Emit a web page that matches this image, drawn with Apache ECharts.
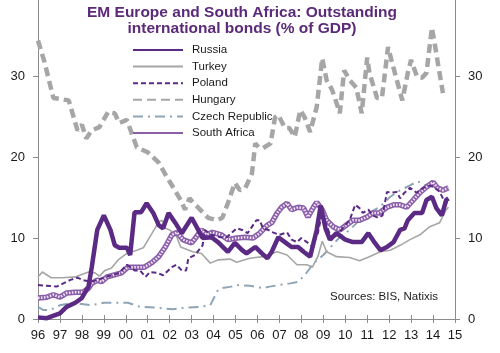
<!DOCTYPE html>
<html>
<head>
<meta charset="utf-8">
<script src="https://cdn.jsdelivr.net/npm/echarts@6/dist/echarts.min.js"></script>
<style>
html,body{margin:0;padding:0;background:#fff;}
#chart{width:500px;height:353px;}
</style>
</head>
<body>
<div id="chart"></div>
<script>
// values: [year, % of GDP]
var russia=[[1996.0,0.2],[1996.4,0.1],[1997.0,0.7],[1997.3,1.5],[1997.7,2.0],[1998.0,2.6],[1998.3,4.0],[1998.45,6.4],[1998.7,11.0],[1999.0,12.8],[1999.3,11.0],[1999.5,9.1],[1999.7,8.8],[2000.05,8.8],[2000.2,7.9],[2000.4,13.2],[2000.7,13.2],[2000.95,14.3],[2001.25,13.1],[2001.5,11.6],[2001.7,11.2],[2001.95,13.1],[2002.25,11.9],[2002.55,10.6],[2003.0,12.5],[2003.3,11.0],[2003.5,10.0],[2003.9,10.1],[2004.2,9.5],[2004.65,8.3],[2004.97,9.4],[2005.3,8.5],[2005.5,8.1],[2005.9,8.9],[2006.2,8.1],[2006.45,7.5],[2006.65,8.3],[2006.95,10.1],[2007.25,9.5],[2007.55,8.9],[2007.85,8.9],[2008.1,8.3],[2008.4,7.7],[2008.7,11.0],[2008.88,14.0],[2009.1,11.2],[2009.3,9.8],[2009.6,10.6],[2010.0,9.8],[2010.35,9.5],[2010.75,9.5],[2011.05,10.6],[2011.35,9.4],[2011.6,8.5],[2011.9,8.9],[2012.2,9.5],[2012.5,11.0],[2012.7,11.2],[2012.85,12.2],[2013.15,13.1],[2013.5,13.1],[2013.7,14.7],[2013.95,15.1],[2014.15,13.7],[2014.4,12.8],[2014.6,14.7],[2014.7,14.9]];
var turkey=[[1996.0,5.2],[1996.2,5.8],[1996.6,5.1],[1997.1,5.1],[1997.7,5.2],[1998.3,5.8],[1998.6,5.7],[1998.8,5.3],[1999.05,6.0],[1999.35,6.3],[1999.65,7.3],[2000.05,8.1],[2000.5,8.5],[2000.8,8.8],[2001.2,10.6],[2001.5,12.0],[2001.65,12.2],[2001.8,11.2],[2002.0,11.0],[2002.3,10.3],[2002.5,8.9],[2003.05,8.3],[2003.45,8.1],[2003.85,6.9],[2004.2,7.3],[2004.75,7.4],[2005.05,7.0],[2005.65,7.5],[2006.25,7.7],[2006.9,8.3],[2007.35,7.9],[2007.8,6.7],[2008.25,6.7],[2008.5,6.4],[2008.75,7.7],[2008.95,9.6],[2009.15,8.3],[2009.6,7.7],[2010.2,7.6],[2010.65,7.2],[2011.1,7.7],[2011.6,8.3],[2012.05,8.5],[2012.5,9.1],[2012.95,9.8],[2013.4,10.4],[2013.85,11.4],[2014.3,11.9],[2014.6,13.5],[2014.7,13.8]];
var poland=[[1996.0,4.2],[1996.85,4.0],[1997.45,4.8],[1997.8,5.1],[1998.05,4.8],[1998.4,4.6],[1998.7,4.8],[1999.05,5.2],[1999.4,5.4],[1999.7,5.7],[2000.05,6.7],[2000.4,6.0],[2000.65,6.0],[2000.9,5.2],[2001.1,5.8],[2001.45,5.7],[2001.7,5.4],[2002.1,6.4],[2002.3,6.7],[2002.55,6.0],[2002.75,6.0],[2002.85,7.5],[2003.15,7.9],[2003.5,9.1],[2003.6,11.0],[2003.9,10.4],[2004.3,10.1],[2004.6,10.1],[2005.05,11.2],[2005.3,11.0],[2005.55,10.6],[2005.7,11.2],[2005.95,12.2],[2006.1,12.2],[2006.25,11.2],[2006.5,11.0],[2006.7,10.7],[2007.0,10.4],[2007.35,10.7],[2007.55,9.8],[2007.8,9.5],[2008.0,10.0],[2008.25,9.5],[2008.5,8.9],[2008.75,10.6],[2008.95,13.2],[2009.15,11.5],[2009.4,9.8],[2009.7,10.6],[2010.0,11.6],[2010.2,12.2],[2010.45,14.1],[2010.65,13.7],[2010.8,13.1],[2011.05,13.5],[2011.25,12.8],[2011.5,12.5],[2011.7,12.8],[2011.9,15.7],[2012.1,15.6],[2012.35,15.7],[2012.5,14.9],[2012.7,15.6],[2012.95,16.2],[2013.25,15.6],[2013.55,16.2],[2013.85,16.5],[2014.1,16.2],[2014.3,15.7],[2014.45,14.9],[2014.6,14.3],[2014.7,14.9]];
var hungary=[[1996.0,34.4],[1996.3,31.7],[1996.7,27.3],[1997.4,27.0],[1997.8,23.3],[1998.0,24.0],[1998.2,22.3],[1998.45,23.3],[1998.8,23.7],[1999.2,25.6],[1999.5,25.4],[1999.7,24.2],[2000.05,24.6],[2000.5,21.2],[2001.0,20.6],[2001.5,19.3],[2001.9,17.4],[2002.15,16.3],[2002.5,14.7],[2002.7,13.5],[2002.9,14.9],[2003.1,14.3],[2003.5,13.2],[2003.75,12.5],[2004.15,12.2],[2004.4,12.5],[2004.65,14.3],[2004.97,16.8],[2005.2,15.9],[2005.45,16.2],[2005.75,18.0],[2005.9,21.7],[2006.05,21.2],[2006.25,21.1],[2006.6,21.7],[2006.8,24.9],[2006.95,25.2],[2007.25,23.6],[2007.45,23.6],[2007.7,22.5],[2007.95,25.8],[2008.15,24.9],[2008.4,23.1],[2008.7,26.2],[2008.95,32.2],[2009.15,29.5],[2009.4,28.3],[2009.6,26.7],[2009.75,25.4],[2009.95,30.7],[2010.2,29.5],[2010.5,28.6],[2010.75,25.4],[2011.0,32.3],[2011.1,30.4],[2011.45,27.3],[2011.67,27.3],[2011.95,33.6],[2012.1,32.0],[2012.35,29.5],[2012.6,27.0],[2012.85,30.4],[2013.0,32.0],[2013.27,29.9],[2013.5,29.8],[2013.7,30.4],[2013.95,36.0],[2014.1,33.6],[2014.25,31.1],[2014.45,27.9]];
var czech=[[1996.0,1.5],[1996.25,1.1],[1996.55,1.1],[1997.0,1.7],[1997.6,2.0],[1998.4,1.7],[1999.0,2.0],[2000.1,2.0],[2000.65,1.5],[2001.4,1.4],[2002.15,1.2],[2002.7,1.4],[2003.4,1.5],[2003.85,1.7],[2004.2,3.6],[2004.35,3.8],[2004.8,4.0],[2005.05,4.2],[2005.65,4.1],[2006.25,3.8],[2006.55,4.0],[2007.0,4.2],[2007.5,4.4],[2007.85,4.6],[2008.15,5.4],[2008.4,6.3],[2008.55,6.9],[2008.75,7.3],[2009.0,7.9],[2009.2,8.5],[2009.75,10.1],[2010.2,11.0],[2010.65,12.2],[2011.1,13.1],[2011.55,13.8],[2012.05,15.1],[2012.5,15.9],[2012.95,16.5],[2013.3,17.0],[2013.6,16.6],[2014.0,16.4],[2014.4,16.0],[2014.7,16.2]];
var southAfrica=[[1996.0,2.6],[1996.4,2.7],[1996.7,3.0],[1997.0,2.7],[1997.3,3.2],[1997.7,3.3],[1998.05,3.3],[1998.3,3.8],[1998.45,4.4],[1998.7,4.8],[1998.9,4.6],[1999.15,5.2],[1999.4,5.4],[1999.8,5.7],[2000.1,6.4],[2000.5,6.4],[2000.85,6.4],[2001.2,7.0],[2001.5,7.7],[2001.8,8.9],[2002.1,10.4],[2002.35,10.7],[2002.6,9.8],[2003.0,9.4],[2003.2,10.1],[2003.45,11.0],[2003.7,10.4],[2003.95,10.7],[2004.35,10.4],[2004.65,9.8],[2005.05,10.0],[2005.45,10.1],[2005.8,10.0],[2006.1,10.6],[2006.45,11.6],[2006.65,11.9],[2006.9,13.1],[2007.1,13.8],[2007.35,14.3],[2007.55,13.5],[2007.85,13.8],[2008.1,13.7],[2008.3,12.6],[2008.55,13.8],[2008.7,14.4],[2008.95,13.5],[2009.15,12.2],[2009.45,11.4],[2009.75,11.0],[2010.05,11.6],[2010.35,12.2],[2010.65,12.2],[2011.0,12.6],[2011.25,13.1],[2011.55,13.1],[2011.9,13.8],[2012.2,14.1],[2012.5,14.1],[2012.8,13.8],[2013.1,14.7],[2013.4,15.6],[2013.7,16.3],[2014.0,16.9],[2014.2,16.2],[2014.45,15.9],[2014.7,16.2]];
var seriesNames=['Russia','Turkey','Poland','Hungary','Czech Republic','South Africa'];
var yTicks=[0,10,20,30];

var purple='#5b2a85';
var grey='#a6a6a6';
var myChart=echarts.init(document.getElementById('chart'));
var yAxisCommon={
    type:'value',min:0,max:39.4,interval:10,
    splitLine:{show:false},
    axisLine:{show:true,lineStyle:{color:'#8c8c8c',width:1}},
    axisTick:{show:true,length:5,lineStyle:{color:'#8c8c8c'}},
    axisLabel:{
        show:true,margin:13,color:'#1a1a1a',fontSize:13,fontFamily:'Liberation Sans, Arial',
        showMaxLabel:false,
        formatter:function(v){return yTicks.indexOf(v)>=0?String(v):'';}
    }
};
var option={
    animation:false,
    title:{
        text:'EM Europe and South Africa: Outstanding\ninternational bonds (% of GDP)',
        left:237,top:0,textAlign:'center',
        textStyle:{color:'#5b2a78',fontSize:15.5,fontWeight:'bold',lineHeight:16,fontFamily:'Liberation Sans, Arial'}
    },
    legend:{
        show:true,orient:'vertical',left:132,top:43,
        itemWidth:50,itemHeight:14,itemGap:2.6,
        data:seriesNames,
        itemStyle:{opacity:0},
        textStyle:{color:'#1a1a1a',fontSize:11.5,fontFamily:'Liberation Sans, Arial',padding:[0,0,0,4],lineHeight:14},
        padding:0
    },
    grid:{left:38,right:45,top:0,bottom:34},
    xAxis:[
        {
            type:'value',min:1996,max:2015,interval:1,
            splitLine:{show:false},
            axisLine:{lineStyle:{color:'#8c8c8c',width:1}},
            axisTick:{show:true,length:4,lineStyle:{color:'#8c8c8c'}},
            axisLabel:{
                margin:10,color:'#1a1a1a',fontSize:13,fontFamily:'Liberation Sans, Arial',
                formatter:function(v){return String(Math.round(v)).slice(2);}
            }
        },
        {
            type:'value',min:1996,max:2015,interval:1,position:'bottom',
            splitLine:{show:false},
            axisLine:{show:false},
            axisTick:{show:true,inside:true,length:4,lineStyle:{color:'#8c8c8c'}},
            axisLabel:{show:false}
        }
    ],
    yAxis:[
        echarts.util.merge({position:'left'},yAxisCommon,true),
        echarts.util.merge({position:'right'},yAxisCommon,true)
    ],
    series:[
        {
            name:'Hungary',type:'line',symbol:'none',data:hungary,z:2,
            lineStyle:{color:grey,width:4.5,type:[9,5]},itemStyle:{color:grey}
        },
        {
            name:'Czech Republic',type:'line',symbol:'none',data:czech,z:3,
            lineStyle:{color:'#8da5b7',width:2,type:[10,5,2,5]},itemStyle:{color:'#8da5b7'}
        },
        {
            name:'Turkey',type:'line',symbol:'none',data:turkey,z:3,
            lineStyle:{color:grey,width:1.6},itemStyle:{color:grey}
        },
        {
            name:'South Africa',type:'line',symbol:'none',data:southAfrica,z:4,
            lineStyle:{color:'#8a5fa8',width:5.5},itemStyle:{color:'#8a5fa8'}
        },
        {
            name:'sa pattern',type:'line',symbol:'none',data:southAfrica,z:5,silent:true,
            lineStyle:{color:'#f1e6f6',width:2.5,type:[1.5,1.5]}
        },
        {
            name:'Poland',type:'line',symbol:'none',data:poland,z:6,
            lineStyle:{color:purple,width:2,type:[5,3]},itemStyle:{color:purple}
        },
        {
            name:'Russia',type:'line',symbol:'none',data:russia,z:7,
            lineStyle:{color:purple,width:4.5},itemStyle:{color:purple}
        }
    ],
    graphic:[
        {
            type:'text',left:330,top:291,
            style:{text:'Sources: BIS, Natixis',fill:'#1a1a1a',fontSize:11.5,fontFamily:'Liberation Sans, Arial'}
        }
    ]
};
myChart.setOption(option);
</script>
</body>
</html>
